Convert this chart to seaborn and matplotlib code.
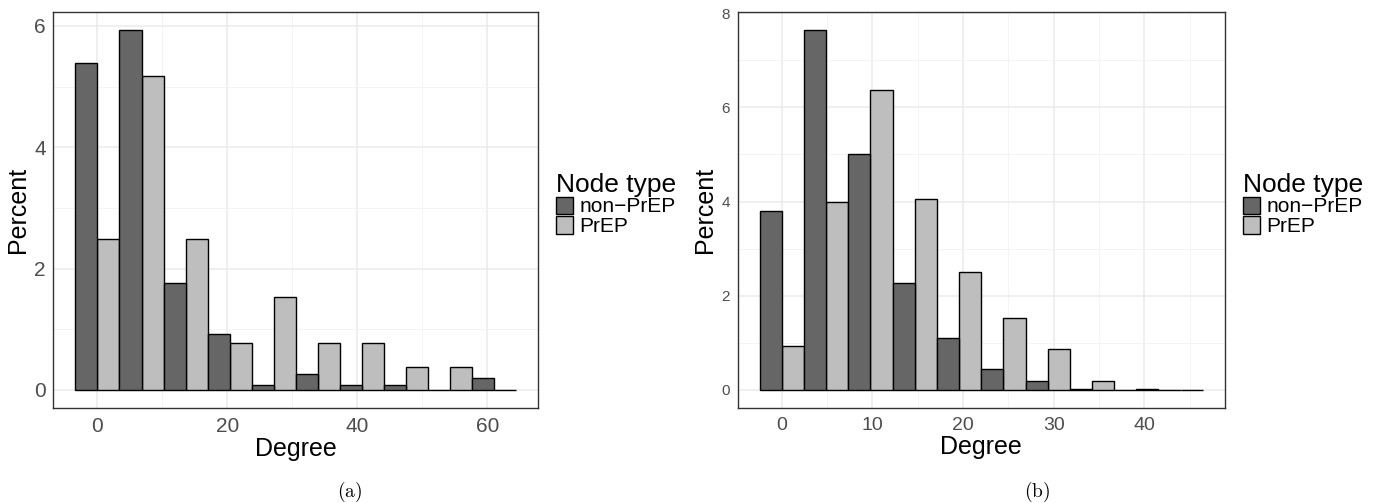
import numpy as np
import pandas as pd
import matplotlib
matplotlib.use("Agg")
import matplotlib.pyplot as plt
from matplotlib.patches import Patch
from matplotlib.ticker import MultipleLocator
import seaborn as sns

# ---------------------------------------------
# data
# ---------------------------------------------
NODE_TYPES = ["non\u2212PrEP", "PrEP"]

# panel (a): bin centres of the degree histogram, percent per node type
DEGREE_A = [0.0, 6.78, 13.56, 20.33, 27.11, 33.89, 40.67, 47.44, 54.22, 61.0]
BINWIDTH_A = 6.778
NONPREP_A = [5.39, 5.94, 1.76, 0.93, 0.09, 0.27, 0.09, 0.09, 0.0, 0.19]
PREP_A = [2.49, 5.18, 2.49, 0.77, 1.54, 0.77, 0.77, 0.38, 0.38, 0.0]

# panel (b)
DEGREE_B = [0.0, 4.89, 9.78, 14.67, 19.56, 24.44, 29.33, 34.22, 39.11, 44.0]
BINWIDTH_B = 4.889
NONPREP_B = [3.79, 7.65, 5.00, 2.28, 1.10, 0.44, 0.18, 0.03, 0.005, 0.004]
PREP_B = [0.94, 3.98, 6.37, 4.05, 2.50, 1.53, 0.86, 0.20, 0.02, 0.004]

FILL = {NODE_TYPES[0]: "#666666", NODE_TYPES[1]: "#BEBEBE"}

sns.set_style("white")
plt.rcParams["font.family"] = ["Liberation Sans", "DejaVu Sans"]
plt.rcParams["mathtext.fontset"] = "cm"
plt.rcParams["text.color"] = "black"
plt.rcParams["axes.labelcolor"] = "black"


def long_table(centres, nonprep, prep):
    return pd.DataFrame({
        "Degree": list(centres) * 2,
        "Percent": list(nonprep) + list(prep),
        "Node type": [NODE_TYPES[0]] * len(centres) + [NODE_TYPES[1]] * len(centres),
    })


def draw_panel(ax, df, centres, width, xmajor, ymajor, ytick_size, xtick_size):
    edges = list(np.asarray(centres) - width / 2) + [centres[-1] + width / 2]
    sns.histplot(data=df, x="Degree", weights="Percent", hue="Node type",
                 hue_order=NODE_TYPES, palette=FILL, bins=edges,
                 multiple="dodge", shrink=1, alpha=1, edgecolor="black",
                 linewidth=1.0, legend=False, ax=ax)

    lo, hi = edges[0], edges[-1]
    pad = (hi - lo) * 0.05
    ax.set_xlim(lo - pad, hi + pad)
    ymax = df["Percent"].max()
    ax.set_ylim(-ymax * 0.05, ymax * 1.05)

    ax.xaxis.set_major_locator(MultipleLocator(xmajor))
    ax.xaxis.set_minor_locator(MultipleLocator(xmajor / 2))
    ax.yaxis.set_major_locator(MultipleLocator(ymajor))
    ax.yaxis.set_minor_locator(MultipleLocator(ymajor / 2))
    ax.set_axisbelow(True)
    ax.grid(which="major", color="#EBEBEB", linewidth=1.1)
    ax.grid(which="minor", color="#F2F2F2", linewidth=0.6)

    for sp in ax.spines.values():
        sp.set_color("#333333")
        sp.set_linewidth(1.0)
        sp.set_visible(True)

    ax.tick_params(axis="both", which="major", length=3.5, width=0.8,
                   color="#333333", labelcolor="#4D4D4D", pad=2)
    ax.tick_params(axis="both", which="minor", length=0)
    ax.tick_params(axis="x", labelsize=xtick_size, pad=3)
    ax.tick_params(axis="y", labelsize=ytick_size)

    ax.set_xlabel("Degree", fontsize=18, labelpad=1, color="black")
    ax.set_ylabel("Percent", fontsize=18, labelpad=3, color="black")


fig = plt.figure(figsize=(13.95, 5.03), dpi=100)
ax1 = fig.add_axes([0.0383, 0.1889, 0.3472, 0.7882])
ax2 = fig.add_axes([0.5287, 0.1889, 0.3494, 0.7882])

draw_panel(ax1, long_table(DEGREE_A, NONPREP_A, PREP_A), DEGREE_A, BINWIDTH_A,
           20, 2, 15, 15)
draw_panel(ax2, long_table(DEGREE_B, NONPREP_B, PREP_B), DEGREE_B, BINWIDTH_B,
           10, 2, 11, 14)

handles = [Patch(facecolor=FILL[t], edgecolor="black", linewidth=1.0) for t in NODE_TYPES]
for x0 in (0.3986, 0.891):
    leg = fig.legend(handles, NODE_TYPES, title="Node type", loc="upper left",
                     bbox_to_anchor=(x0, 0.657), frameon=False, fontsize=15,
                     title_fontsize=19, handlelength=0.82, handleheight=0.9,
                     handletextpad=0.3, labelspacing=0.0, borderpad=0,
                     borderaxespad=0, alignment="left", labelcolor="black")
    leg.get_title().set_color("black")

fig.text(350 / 1395, 1 - 492 / 503, r"$\mathrm{(a)}$", ha="center", va="center", fontsize=14)
fig.text(1037 / 1395, 1 - 492 / 503, r"$\mathrm{(b)}$", ha="center", va="center", fontsize=14)

fig.savefig("out.png", dpi=100)
